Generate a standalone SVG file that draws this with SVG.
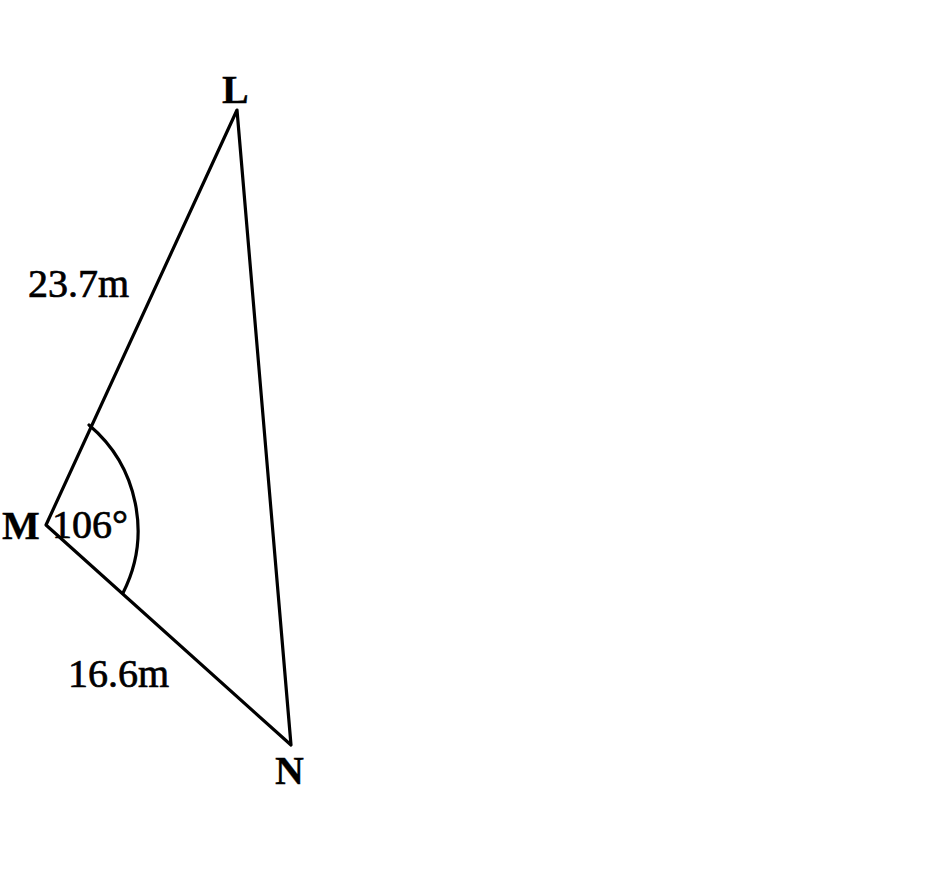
<svg xmlns="http://www.w3.org/2000/svg" width="942" height="877" viewBox="0 0 942 877">
<style>
.ln{fill:none;stroke:#000;stroke-width:3.2;stroke-linecap:round;stroke-linejoin:round}
.lbl{font-family:"Liberation Serif","Times New Roman",serif;font-size:40px;fill:#000;stroke:#000;stroke-width:0.7}
.b{font-weight:bold;stroke-width:0.3}
</style>
<rect width="942" height="877" fill="#fff"/>
<g id="connectors">
<path class="ln" d="M237,110 L46,525 L291,745 Z"/>
<path class="ln" d="M89,425 A138,138 0 0 1 123,593"/>
</g>
<g id="L"><text class="lbl b" x="222" y="103">L</text></g>
<g id="M"><text class="lbl b" x="2" y="539">M</text></g>
<g id="N"><text class="lbl b" x="275" y="784">N</text></g>
<g id="angle"><text class="lbl" x="52" y="538">106°</text></g>
<g id="ML-len"><text class="lbl" x="28" y="297">23.7m</text></g>
<g id="MN-len"><text class="lbl" x="68" y="687">16.6m</text></g>
</svg>
